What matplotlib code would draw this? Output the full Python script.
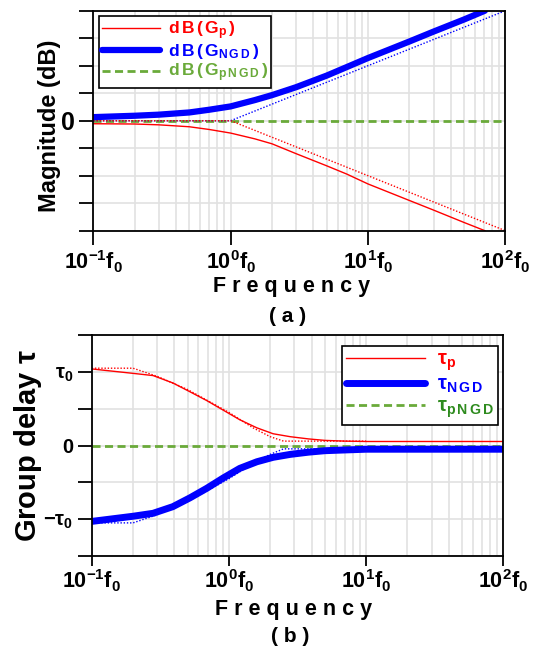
import matplotlib
matplotlib.use("Agg")
import matplotlib.pyplot as plt
from matplotlib.ticker import LogLocator, NullFormatter

plt.rcParams['font.family'] = ['Liberation Sans', 'DejaVu Sans']
plt.rcParams['font.weight'] = 'bold'
plt.rcParams['mathtext.fontset'] = 'custom'
plt.rcParams['mathtext.rm'] = 'Liberation Sans:bold'
plt.rcParams['mathtext.it'] = 'Liberation Sans:bold'
plt.rcParams['mathtext.bf'] = 'Liberation Sans:bold'
plt.rcParams['mathtext.default'] = 'regular'

# ---- (a) magnitude, y in units of one grid step ----
freq_mag = [0.1, 0.2, 0.3, 0.5, 0.7, 1, 1.5, 2, 3, 5, 7, 10, 20, 30, 50, 71]
mag_ngd = [0.13, 0.18, 0.22, 0.3, 0.4, 0.52, 0.75, 0.93, 1.22, 1.64, 1.95, 2.28, 2.88, 3.24, 3.68, 4.0]
mag_p = [-0.11, -0.12, -0.15, -0.22, -0.32, -0.45, -0.66, -0.84, -1.2, -1.64, -1.94, -2.3, -2.9, -3.25, -3.7, -4.0]
freq_asym = [0.1, 1, 100]
asym_ngd = [0, 0, 4]
asym_p = [0, 0, -4]
freq_flat = [0.1, 98]
mag_pngd = [0, 0]

# ---- (b) group delay, y in units of tau0 ----
freq_gd = [0.1, 0.2, 0.28, 0.39, 0.52, 0.69, 0.91, 1.2, 1.6, 2.1, 2.8, 3.8, 5, 7, 10, 100]
tau_p = [1.04, 0.98, 0.95, 0.85, 0.73, 0.61, 0.48, 0.35, 0.24, 0.16, 0.12, 0.09, 0.07, 0.06, 0.055, 0.055]
tau_ngd = [-1.03, -0.96, -0.92, -0.83, -0.71, -0.58, -0.44, -0.31, -0.22, -0.16, -0.12, -0.09, -0.07, -0.06, -0.05, -0.05]
freq_gd_asym = [0.1, 0.2, 0.3, 0.5, 1, 1.5, 2, 2.5, 10]
tau_p_asym = [1.05, 1.05, 0.94, 0.76, 0.45, 0.24, 0.12, 0.06, 0.06]
tau_ngd_asym = [-1.05, -1.05, -0.94, -0.76, -0.45, -0.24, -0.12, -0.045, -0.045]
tau_pngd = [0, 0]

xticks = [0.1, 1, 10, 100]
xticklabels = [r'$10^{-1}f_0$', r'$10^{0}f_0$', r'$10^{1}f_0$', r'$10^{2}f_0$']
mag_ticks = [-4, -3, -2, -1, 0, 1, 2, 3, 4]
mag_ticklabels = ['', '', '', '', '0', '', '', '', '']
gd_ticks = [-1.5, -1, -0.5, 0, 0.5, 1, 1.5]
gd_ticklabels = ['', r'$-\tau_0$', '', '0', '', r'$\tau_0$', '']

red = '#ff0000'
blue = '#0000ff'
green = '#6aaa3a'
grid_c = '#e2e2e2'

fig = plt.figure(figsize=(5.36, 6.53), dpi=100)
ax1 = fig.add_axes([0.1741, 0.6467, 0.7687, 0.3369])
ax2 = fig.add_axes([0.1711, 0.1485, 0.768, 0.3384])


def style_axes(ax, xlen, xpad):
    ax.set_xscale('log')
    ax.set_xlim(0.1, 100)
    ax.set_xticks(xticks)
    ax.set_xticklabels(xticklabels, fontsize=15.5)
    ax.xaxis.set_minor_locator(LogLocator(base=10, subs=range(2, 10)))
    ax.xaxis.set_minor_formatter(NullFormatter())
    ax.tick_params(which='major', direction='out', length=10, width=1.3, pad=3)
    ax.tick_params(axis='x', which='major', length=xlen, pad=xpad)
    ax.tick_params(which='minor', length=0)
    ax.grid(True, which='both', axis='x', color=grid_c, lw=1.2)
    ax.grid(True, which='major', axis='y', color=grid_c, lw=1.2)
    ax.set_axisbelow(True)
    for s in ax.spines.values():
        s.set_linewidth(1.3)


# (a)
style_axes(ax1, 10, 3)
ax1.plot(freq_flat, mag_pngd, '--', color=green, lw=2, dashes=(2.9, 1.6), label=r'$d\,B\,(\,G_{p\,N\,G\,D}\,)$')
ax1.plot(freq_asym, asym_ngd, ':', color=blue, lw=1, dashes=(1, 1.3))
ax1.plot(freq_asym, asym_p, ':', color=red, lw=1, dashes=(1, 1.3))
ax1.plot(freq_mag, mag_p, '-', color=red, lw=1, label=r'$d\,B\,(\,G_{p}\,)$')
ax1.plot(freq_mag, mag_ngd, '-', color=blue, lw=4.5, solid_capstyle='round', label=r'$d\,B\,(\,G_{N\,G\,D}\,)$')
ax1.set_ylim(-4, 4)
ax1.set_yticks(mag_ticks)
ax1.set_yticklabels(mag_ticklabels, fontsize=18)
ax1.set_ylabel('Magnitude (dB)', fontsize=17, fontweight='bold')
ax1.yaxis.set_label_coords(-0.078, 0.478)
ax1.set_xlabel('F r e q u e n c y', fontsize=15.5, fontweight='bold')
ax1.xaxis.set_label_coords(0.482, -0.205)

h, l = ax1.get_legend_handles_labels()
order = [1, 2, 0]
leg1 = ax1.legend([h[i] for i in order], [l[i] for i in order], loc='upper left',
                  bbox_to_anchor=(0.0138, 0.976), borderaxespad=0, fontsize=12.5,
                  handlelength=3.3, handletextpad=0.45, labelspacing=0.02, borderpad=0.2,
                  fancybox=False, framealpha=1, edgecolor='black')
leg1.get_frame().set_linewidth(1.2)
for t, c in zip(leg1.get_texts(), [red, blue, green]):
    t.set_color(c)

# (b)
style_axes(ax2, 7, 1.5)
ax2.plot(freq_flat, tau_pngd, '--', color=green, lw=2, dashes=(2.9, 1.6), label=r'$\tau_{p\,N\,G\,D}$')
ax2.plot(freq_gd_asym, tau_p_asym, ':', color=red, lw=1, dashes=(1, 1.3))
ax2.plot(freq_gd_asym, tau_ngd_asym, ':', color=blue, lw=1, dashes=(1, 1.3))
ax2.plot(freq_gd, tau_p, '-', color=red, lw=1, label=r'$\tau_{p}$')
ax2.plot(freq_gd, tau_ngd, '-', color=blue, lw=5, solid_capstyle='round', label=r'$\tau_{N\,G\,D}$')
ax2.set_ylim(-1.5, 1.5)
ax2.set_yticks(gd_ticks)
ax2.set_yticklabels(gd_ticklabels, fontsize=14.5)
ax2.set_ylabel(r'Group delay $\tau$', fontsize=21, fontweight='bold')
ax2.yaxis.set_label_coords(-0.117, 0.5)
ax2.set_xlabel('F r e q u e n c y', fontsize=15.5, fontweight='bold')
ax2.xaxis.set_label_coords(0.49, -0.195)

h, l = ax2.get_legend_handles_labels()
leg2 = ax2.legend([h[i] for i in order], [l[i] for i in order], loc='upper left',
                  bbox_to_anchor=(0.607, 0.952), borderaxespad=0, fontsize=14.5,
                  handlelength=3.9, handletextpad=0.6, labelspacing=0.08, borderpad=0.22,
                  fancybox=False, framealpha=1, edgecolor='black')
leg2.get_frame().set_linewidth(1.2)
for t, c in zip(leg2.get_texts(), [red, blue, '#2e8b1e']):
    t.set_color(c)

fig.text(0.537, 0.5146, '( a )', ha='center', va='center', fontsize=15, fontweight='bold')
fig.text(0.541, 0.026, '( b )', ha='center', va='center', fontsize=15, fontweight='bold')

fig.savefig('out.png', dpi=100)
